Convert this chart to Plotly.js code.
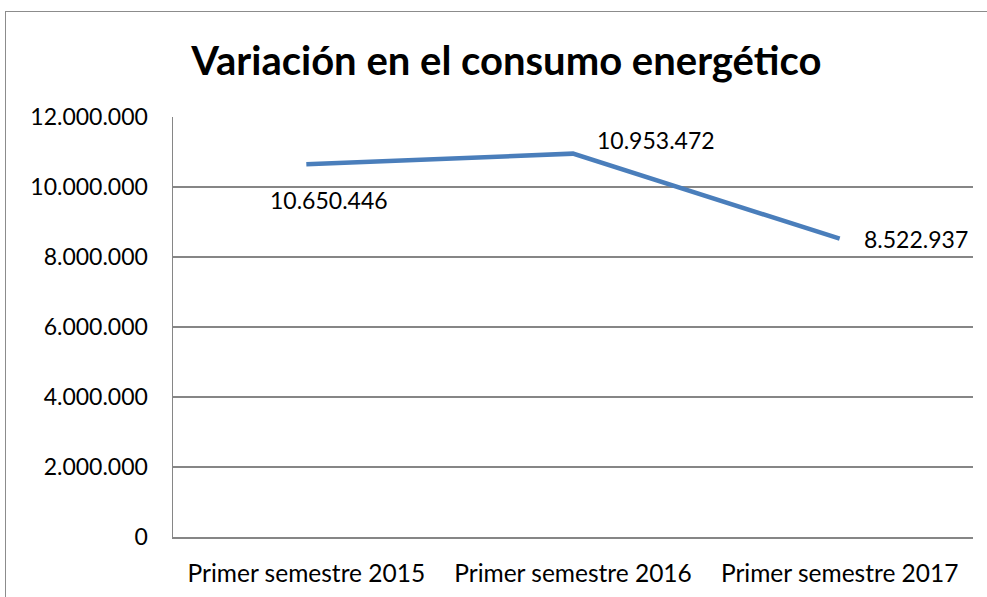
<!DOCTYPE html>
<html>
<head>
<meta charset="utf-8">
<script src="https://cdn.plot.ly/plotly-3.0.1.min.js"></script>
<style>
  html, body { margin: 0; padding: 0; background: #fff; overflow: hidden; }
  #frame { position: absolute; left: 5px; top: 11px; width: 1000px; height: 700px; border: 1.5px solid #8c8c8c; box-sizing: border-box; }
  #chart { position: absolute; left: 0; top: 0; width: 987px; height: 597px; }
</style>
</head>
<body>
<div id="frame"></div>
<div id="chart"></div>
<script>
const categories = ["Primer semestre 2015", "Primer semestre 2016", "Primer semestre 2017"];
const consumo = [10650446, 10953472, 8522937];
const yTicks = [0, 2000000, 4000000, 6000000, 8000000, 10000000, 12000000];
const labelShiftX = [23, 83, 76];
const labelShiftY = [-36, 14, 0];

function fmt(v) {
  return String(v).replace(/\B(?=(\d{3})+(?!\d))/g, ".");
}

const FONT = "Lato, 'Open Sans', sans-serif";

const trace = {
  x: categories,
  y: consumo,
  type: "scatter",
  mode: "lines",
  line: { color: "#4a7ebb", width: 4.5 },
  hoverinfo: "skip"
};

const annotations = categories.map((c, i) => ({
  x: c, y: consumo[i], xref: "x", yref: "y",
  text: fmt(consumo[i]),
  showarrow: false,
  xshift: labelShiftX[i], yshift: labelShiftY[i],
  font: { family: FONT, size: 23, color: "#000" }
}));

const layout = {
  width: 987, height: 597,
  margin: { l: 173, r: 14, t: 117, b: 60 },
  paper_bgcolor: "rgba(0,0,0,0)",
  plot_bgcolor: "rgba(0,0,0,0)",
  separators: ",.",
  showlegend: false,
  title: {
    text: "<b>Variación en el consumo energético</b>",
    x: 0.513, xanchor: "center",
    y: 0.897, yanchor: "middle",
    yref: "container",
    font: { family: FONT, size: 40, color: "#000" }
  },
  xaxis: {
    type: "category",
    range: [-0.5, 2.5],
    showgrid: false,
    showline: true, linecolor: "#868686", linewidth: 1.5,
    ticks: "",
    ticklabelstandoff: 14,
    tickfont: { family: FONT, size: 24.5, color: "#000" },
    fixedrange: true
  },
  yaxis: {
    range: [0, 12000000],
    tickvals: yTicks,
    ticktext: yTicks.map(fmt),
    showgrid: true, gridcolor: "#868686", gridwidth: 1.5,
    showline: true, linecolor: "#868686", linewidth: 1.5,
    zeroline: false,
    ticks: "",
    ticklabelstandoff: 19,
    tickfont: { family: FONT, size: 23, color: "#000" },
    fixedrange: true
  },
  annotations: annotations
};

Plotly.newPlot("chart", [trace], layout, { displayModeBar: false, staticPlot: true });
</script>
</body>
</html>
